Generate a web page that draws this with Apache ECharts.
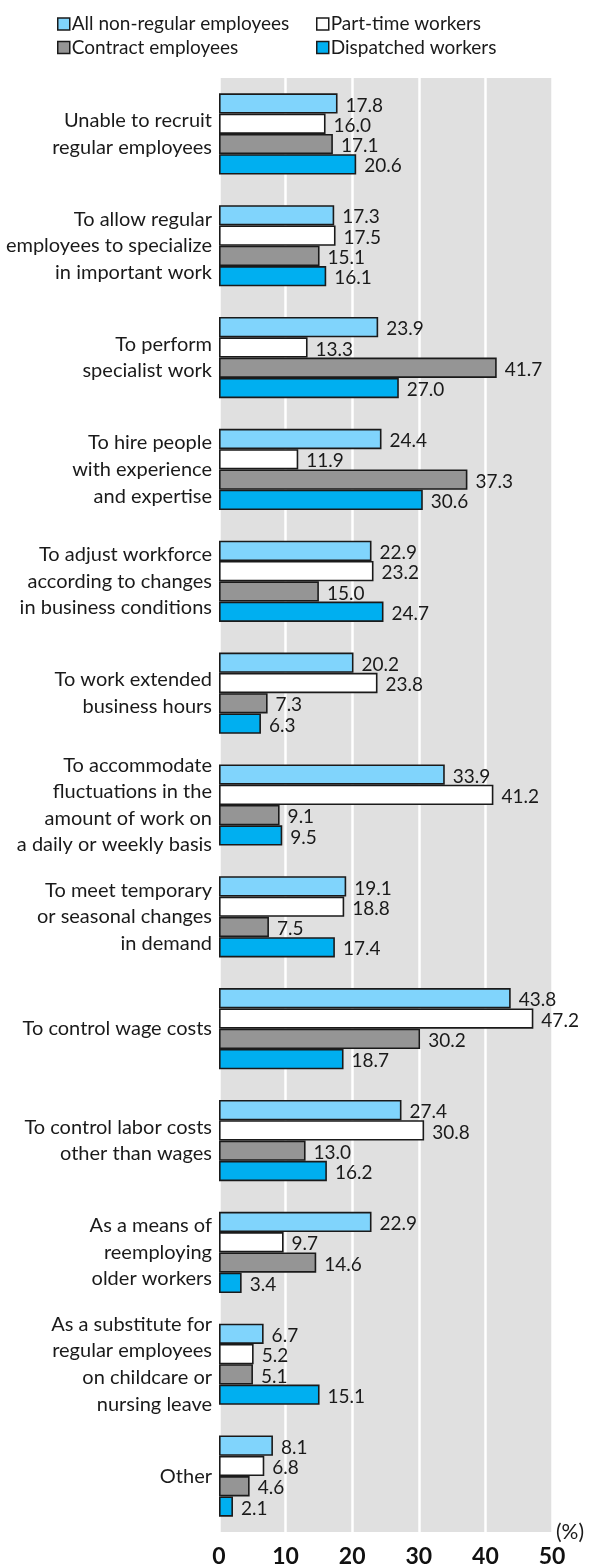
<!DOCTYPE html>
<html>
<head>
<meta charset="utf-8">
<script src="https://cdn.jsdelivr.net/npm/echarts@6/dist/echarts.min.js"></script>
<style>
html,body{margin:0;padding:0;background:#fff;}
#chart{width:592px;height:1568px;}
</style>
</head>
<body>
<div id="chart"></div>
<script>
const categories = [
  "Unable to recruit\nregular employees",
  "To allow regular\nemployees to specialize\nin important work",
  "To perform\nspecialist work",
  "To hire people\nwith experience\nand expertise",
  "To adjust workforce\naccording to changes\nin business conditions",
  "To work extended\nbusiness hours",
  "To accommodate\nfluctuations in the\namount of work on\na daily or weekly basis",
  "To meet temporary\nor seasonal changes\nin demand",
  "To control wage costs",
  "To control labor costs\nother than wages",
  "As a means of\nreemploying\nolder workers",
  "As a substitute for\nregular employees\non childcare or\nnursing leave",
  "Other"
];
const seriesNames = ["All non-regular employees", "Part-time workers", "Contract employees", "Dispatched workers"];
const allNonRegular = [17.8, 17.3, 23.9, 24.4, 22.9, 20.2, 33.9, 19.1, 43.8, 27.4, 22.9, 6.7, 8.1];
const partTime      = [16.0, 17.5, 13.3, 11.9, 23.2, 23.8, 41.2, 18.8, 47.2, 30.8, 9.7, 5.2, 6.8];
const contract      = [17.1, 15.1, 41.7, 37.3, 15.0, 7.3, 9.1, 7.5, 30.2, 13.0, 14.6, 5.1, 4.6];
const dispatched    = [20.6, 16.1, 27.0, 30.6, 24.7, 6.3, 9.5, 17.4, 18.7, 16.2, 3.4, 15.1, 2.1];
const xTicks = [0, 10, 20, 30, 40, 50];

const colors = ["#80d4fc", "#ffffff", "#959595", "#00aff0"];
const FONT = "Lato";
const TXT = "#1a1a1a";

const chart = echarts.init(document.getElementById('chart'), null, {renderer: 'canvas'});
const datasets = [allNonRegular, partTime, contract, dispatched];

const series = datasets.map((d, i) => ({
  name: seriesNames[i],
  type: 'bar',
  data: d,
  barWidth: 20.3,
  barGap: '0%',
  itemStyle: {color: colors[i], borderColor: '#1a1a1a', borderWidth: 1.6},
  label: {
    show: true,
    position: 'right',
    distance: 8,
    offset: [0, 2],
    color: TXT,
    fontFamily: FONT,
    fontSize: 19,
    formatter: p => p.value.toFixed(1)
  },
  emphasis: {disabled: true},
  animation: false
}));

const legendCommon = {
  orient: 'vertical',
  top: 9,
  itemWidth: 12,
  itemHeight: 12,
  itemGap: 3.5,
  icon: 'rect',
  textStyle: {color: TXT, fontFamily: FONT, fontSize: 19, lineHeight: 20, padding: [0, 0, 0, -3]},
  itemStyle: {borderColor: '#1a1a1a', borderWidth: 1.5},
  selectedMode: false
};

chart.setOption({
  animation: false,
  backgroundColor: '#fff',
  legend: [
    Object.assign({}, legendCommon, {left: 52, data: [seriesNames[0], seriesNames[2]]}),
    Object.assign({}, legendCommon, {left: 311, data: [seriesNames[1], seriesNames[3]]})
  ],
  grid: {
    left: 219, right: 40, top: 78, bottom: 36,
    show: true, backgroundColor: '#e0e0e0', borderWidth: 0,
    containLabel: false
  },
  xAxis: {
    type: 'value',
    min: xTicks[0],
    max: xTicks[xTicks.length - 1],
    interval: 10,
    name: '(%)',
    nameLocation: 'end',
    nameGap: 4,
    nameTextStyle: {color: TXT, fontFamily: FONT, fontSize: 21, verticalAlign: 'middle', padding: [0, 0, 4, 0]},
    axisLine: {show: false},
    axisTick: {show: false},
    axisLabel: {color: '#111', fontFamily: FONT, fontSize: 23, fontWeight: 'bold', margin: 13},
    splitLine: {show: true, lineStyle: {color: '#ffffff', width: 2.5}}
  },
  yAxis: {
    type: 'category',
    data: categories,
    inverse: true,
    axisLine: {show: false},
    axisTick: {show: false},
    axisLabel: {color: TXT, fontFamily: FONT, fontSize: 20, lineHeight: 26.6, align: 'right', margin: 7}
  },
  series: series
});
</script>
</body>
</html>
